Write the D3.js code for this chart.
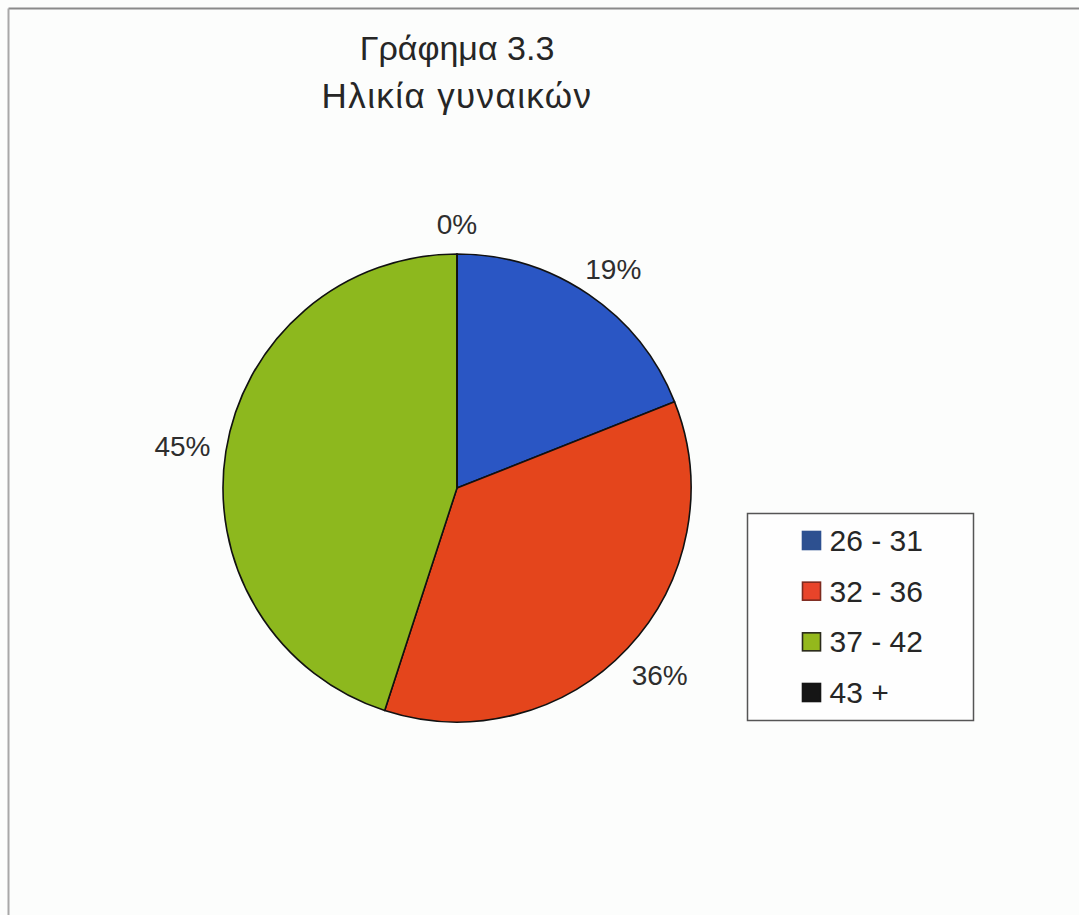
<!DOCTYPE html>
<html>
<head>
<meta charset="utf-8">
<script src="https://cdn.jsdelivr.net/npm/d3@7"></script>
<style>
  html, body { margin: 0; padding: 0; background: #fcfdfc; }
  svg { display: block; font-family: "Liberation Sans", Arial, sans-serif; }
</style>
</head>
<body>
<svg id="chart" width="1079" height="915"></svg>
<script>
// Age groups of the women and their share
const categories = ["26 - 31", "32 - 36", "37 - 42", "43 +"];
const shares = [19, 36, 45, 0];
const sliceColors = ["#2a56c4", "#e4451c", "#8db81e", "#141414"];
const legendColors = ["#2d5090", "#e8442a", "#94b81c", "#151515"];
const legendStrokes = ["#2d5090", "#7d2a1e", "#2a2a1a", "#151515"];
const titleLines = ["Γράφημα 3.3", "Ηλικία γυναικών"];

const width = 1079, height = 915;
const svg = d3.select("#chart");

// frame lines (top and left)
svg.append("line").attr("x1", 8.5).attr("x2", 1079).attr("y1", 8.5).attr("y2", 8.5)
  .attr("stroke", "#8a8a8a").attr("stroke-width", 2);
svg.append("line").attr("x1", 8.5).attr("x2", 8.5).attr("y1", 8.5).attr("y2", height)
  .attr("stroke", "#a8a8a8").attr("stroke-width", 2);

// title
svg.append("g").selectAll("text").data(titleLines).join("text")
  .attr("x", 457).attr("y", (d, i) => 60 + i * 48)
  .attr("text-anchor", "middle")
  .attr("font-size", (d, i) => i === 1 ? 35 : 34).attr("fill", "#262626")
  .attr("letter-spacing", (d, i) => i === 1 ? 1.4 : 0)
  .text(d => d);

// pie
const cx = 457, cy = 488, r = 234;
const pie = d3.pie().sort(null).value(d => d);
const arcs = pie(shares);
const arc = d3.arc().innerRadius(0).outerRadius(r);

const g = svg.append("g").attr("transform", `translate(${cx},${cy})`);
g.selectAll("path").data(arcs).join("path")
  .attr("d", arc)
  .attr("fill", (d, i) => sliceColors[i])
  .attr("stroke", "#111").attr("stroke-width", 1.6)
  .attr("stroke-linejoin", "round");

// percentage labels, placed just outside the rim
const labelFont = 28;
const labels = g.selectAll("text.lbl").data(arcs).join("text")
  .attr("class", "lbl")
  .attr("font-size", labelFont).attr("fill", "#2e2e2e")
  .attr("text-anchor", "middle")
  .attr("dominant-baseline", "central")
  .text(d => d.data + "%");

labels.each(function(d) {
  const a = (d.startAngle + d.endAngle) / 2;
  const bb = this.getBBox();
  const rr = r + 16;
  const x = Math.sin(a) * rr + Math.sin(a) * bb.width / 2;
  const yPad = Math.cos(a) < 0 ? 0.75 : 0.45;
  const y = -Math.cos(a) * rr - Math.cos(a) * bb.height * yPad;
  d3.select(this).attr("x", x).attr("y", y);
});

// legend
const legend = svg.append("g").attr("transform", "translate(747.5,513.5)");
legend.append("rect").attr("width", 226).attr("height", 207)
  .attr("fill", "#fefefe").attr("stroke", "#555").attr("stroke-width", 1.5);

const rowY = d3.scalePoint().domain(categories).range([27, 179]);
const items = legend.selectAll("g.item").data(categories).join("g")
  .attr("class", "item")
  .attr("transform", d => `translate(0,${rowY(d)})`);
items.append("rect")
  .attr("x", 55).attr("y", -9).attr("width", 18).attr("height", 18)
  .attr("fill", (d, i) => legendColors[i])
  .attr("stroke", (d, i) => legendStrokes[i]).attr("stroke-width", 1.6);
items.append("text")
  .attr("x", 82).attr("y", 0)
  .attr("dominant-baseline", "central")
  .attr("font-size", 30).attr("fill", "#262626")
  .text(d => d);
</script>
</body>
</html>
